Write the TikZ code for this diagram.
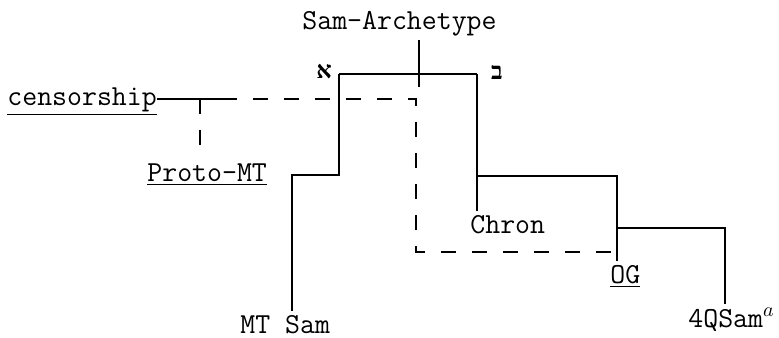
\documentclass[tikz,border=0pt]{standalone}
\usepackage{fontspec}
\newfontfamily\hebfont[Script=Hebrew]{Liberation Serif}
\TeXXeTstate=1
\usepackage{tikz}
\usetikzlibrary{calc,positioning}

\begin{document}
\begin{tikzpicture}[x=0.5pt,y=-0.5pt,every node/.style={font=\fontsize{14.5pt}{17pt}\selectfont\ttfamily, inner xsep=0pt, inner ysep=2pt},
    branch/.style={line width=0.75pt},
    lost/.style={line width=0.75pt,dash pattern=on 7.5pt off 8pt},
    letter/.style={font=\hebfont\bfseries\fontsize{12pt}{14pt}\selectfont}]
  \useasboundingbox (0,0) rectangle (779,337);

  % witnesses
  \node[anchor=base west] (arch) at (302,29) {Sam-Archetype};
  \node[anchor=base west] (censorship) at (7,105) {\underline{censorship}};
  \node[anchor=base west] (protomt) at (147,181) {\underline{Proto-MT}};
  \node[anchor=base west] (mtsam) at (240,333) {MT Sam};
  \node[anchor=base west] (chron) at (470,233) {Chron};
  \node[anchor=base west] (og) at (610,283) {\underline{OG}};
  \node[anchor=base west] (qsam) at (688,327) {4QSam$^{a}$};
  \node[letter] (alef) at (324,72) {\beginR א\endR};
  \node[letter] (bet) at (497,72) {\beginR ב\endR};

  % junctions
  \coordinate (jt) at (419,74);
  \coordinate (ja) at (339,74);
  \coordinate (jb) at (477,74);
  \coordinate (jm) at (292,175);
  \coordinate (jc) at (617,176);
  \coordinate (jq) at (725,228);
  \coordinate (jp) at (200,99);
  \coordinate (jd) at (416,99);
  \coordinate (jo) at (617,252);

  \draw[branch] (ja) -- (jb);
  \draw[branch] (arch.south -| jt) -- ($(jt)+(0,13)$);
  \draw[branch] (ja) |- (jm) -- (mtsam.north -| jm);
  \draw[branch] (jb) -- (chron.north -| jb);
  \draw[branch] (jc -| jb) -- (jc) -- (og.north -| jc);
  \draw[branch] (jq -| jc) -- (jq) -- (qsam.north -| jq);

  \draw[branch] (censorship.east |- jp) -- ($(jp)+(22,0)$);
  \draw[lost] ($(jp)+(22,0)$) -- (jd) |- (jo);
  \draw[lost] (jp) -- (protomt.north -| jp);
\end{tikzpicture}
\end{document}
